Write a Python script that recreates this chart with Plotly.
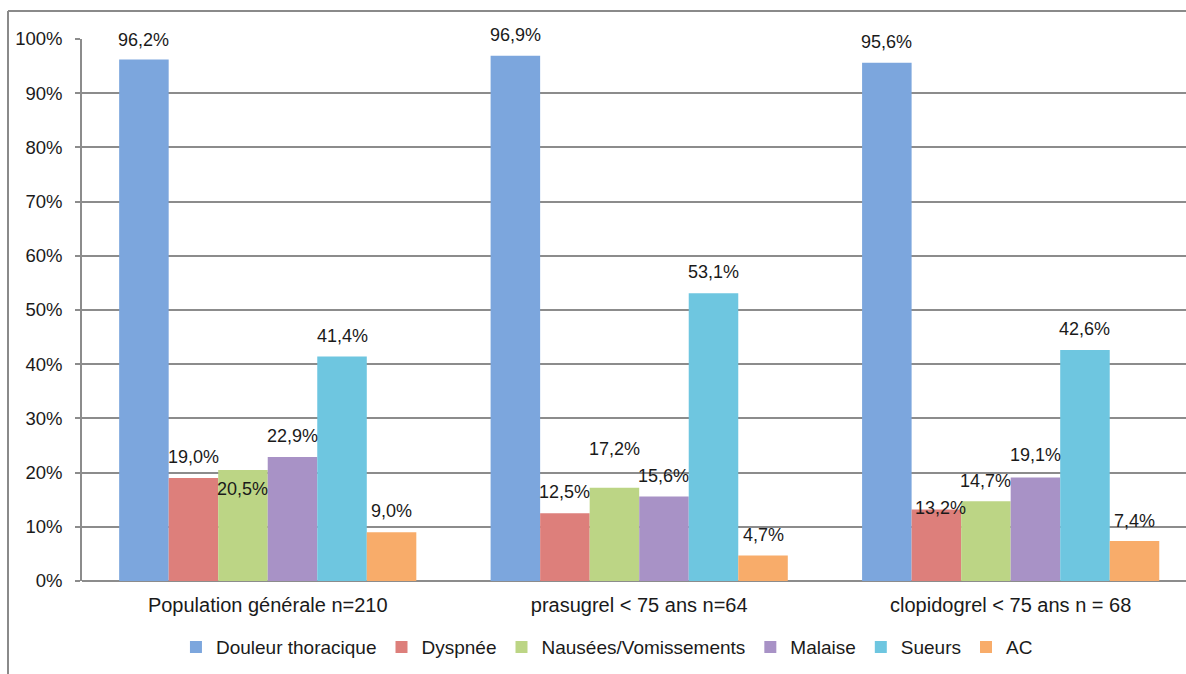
import plotly.graph_objects as go

# Groups on the x axis
groups = [
    "Population générale n=210",
    "prasugrel < 75 ans n=64",
    "clopidogrel < 75 ans n = 68",
]

# Symptom frequencies (%) per group
douleur_thoracique = [96.2, 96.9, 95.6]
dyspnee = [19.0, 12.5, 13.2]
nausees_vomissements = [20.5, 17.2, 14.7]
malaise = [22.9, 15.6, 19.1]
sueurs = [41.4, 53.1, 42.6]
ac = [9.0, 4.7, 7.4]

series_names = ["Douleur thoracique", "Dyspnée", "Nausées/Vomissements",
                "Malaise", "Sueurs", "AC"]
series_values = [douleur_thoracique, dyspnee, nausees_vomissements,
                 malaise, sueurs, ac]
series_colors = ["#7ca6dd", "#dd7f7b", "#bcd585", "#a892c6", "#6ec6e0", "#f8ac6a"]

# Vertical pixel offset of each value label from its bar top (per series, per group)
label_yshift = [
    [20, 21, 21],
    [21, 21, 1],
    [-19, 39, 20],
    [21, 20, 22],
    [21, 21, 21],
    [21, 21, 20],
]
label_xshift = [
    [0, 0, 0],
    [0, 0, 4],
    [0, 0, 0],
    [0, 0, 0],
    [0, 0, 0],
    [0, 0, 0],
]

FONT = "Liberation Sans, Arial, sans-serif"
TEXT = "#1a1a1a"
GRID = "#8c8c8c"

fig = go.Figure()
for name, vals, col in zip(series_names, series_values, series_colors):
    fig.add_trace(go.Bar(
        name=name, x=groups, y=vals,
        marker=dict(color=col, line=dict(width=0)),
        hoverinfo="skip",
    ))

# Value labels above the bars
n = len(series_names)
group_width = 0.8
bar_w = group_width / n
for i, vals in enumerate(series_values):
    for g, v in enumerate(vals):
        fig.add_annotation(
            x=g + (i - (n - 1) / 2) * bar_w, y=v,
            xref="x", yref="y",
            text=f"{v:.1f}".replace(".", ",") + "%",
            showarrow=False, yanchor="middle", xanchor="center",
            yshift=label_yshift[i][g], xshift=label_xshift[i][g],
            font=dict(family=FONT, size=18, color=TEXT),
        )

# Outer frame of the chart
fx = (8 - 82) / 1104
fy = (581 - 11) / 542
fig.add_shape(type="line", xref="paper", yref="paper",
              x0=fx, x1=fx, y0=-0.25, y1=fy,
              line=dict(color="#8a8a8a", width=2))
fig.add_shape(type="line", xref="paper", yref="paper",
              x0=fx, x1=1.05, y0=fy, y1=fy,
              line=dict(color="#8a8a8a", width=2))

fig.update_layout(
    width=1186, height=674,
    margin=dict(l=82, r=0, t=39, b=93),
    paper_bgcolor="white", plot_bgcolor="white",
    barmode="group", bargap=0.2, bargroupgap=0,
    font=dict(family=FONT, size=18, color=TEXT),
    showlegend=True,
    legend=dict(
        orientation="h", x=0.4755, xanchor="center",
        y=-0.122, yanchor="middle",
        font=dict(family=FONT, size=19, color=TEXT),
        itemwidth=30, itemclick=False, itemdoubleclick=False,
    ),
    xaxis=dict(
        type="category", range=[-0.5, 2.472],
        showgrid=False, showline=False, zeroline=False,
        ticks="", ticklabelstandoff=10,
        tickfont=dict(family=FONT, size=20, color=TEXT),
        fixedrange=True,
    ),
    yaxis=dict(
        range=[0, 100], dtick=10, ticksuffix="%",
        showgrid=True, gridcolor=GRID, gridwidth=1.5,
        zeroline=True, zerolinecolor=GRID, zerolinewidth=1.5,
        showline=True, linecolor=GRID, linewidth=1.5,
        ticks="outside", ticklen=5, tickcolor=GRID, tickwidth=1.5,
        ticklabelstandoff=9,
        tickfont=dict(family=FONT, size=18.5, color=TEXT),
        fixedrange=True,
    ),
)

fig.write_html("out.html", config={"displayModeBar": False})
